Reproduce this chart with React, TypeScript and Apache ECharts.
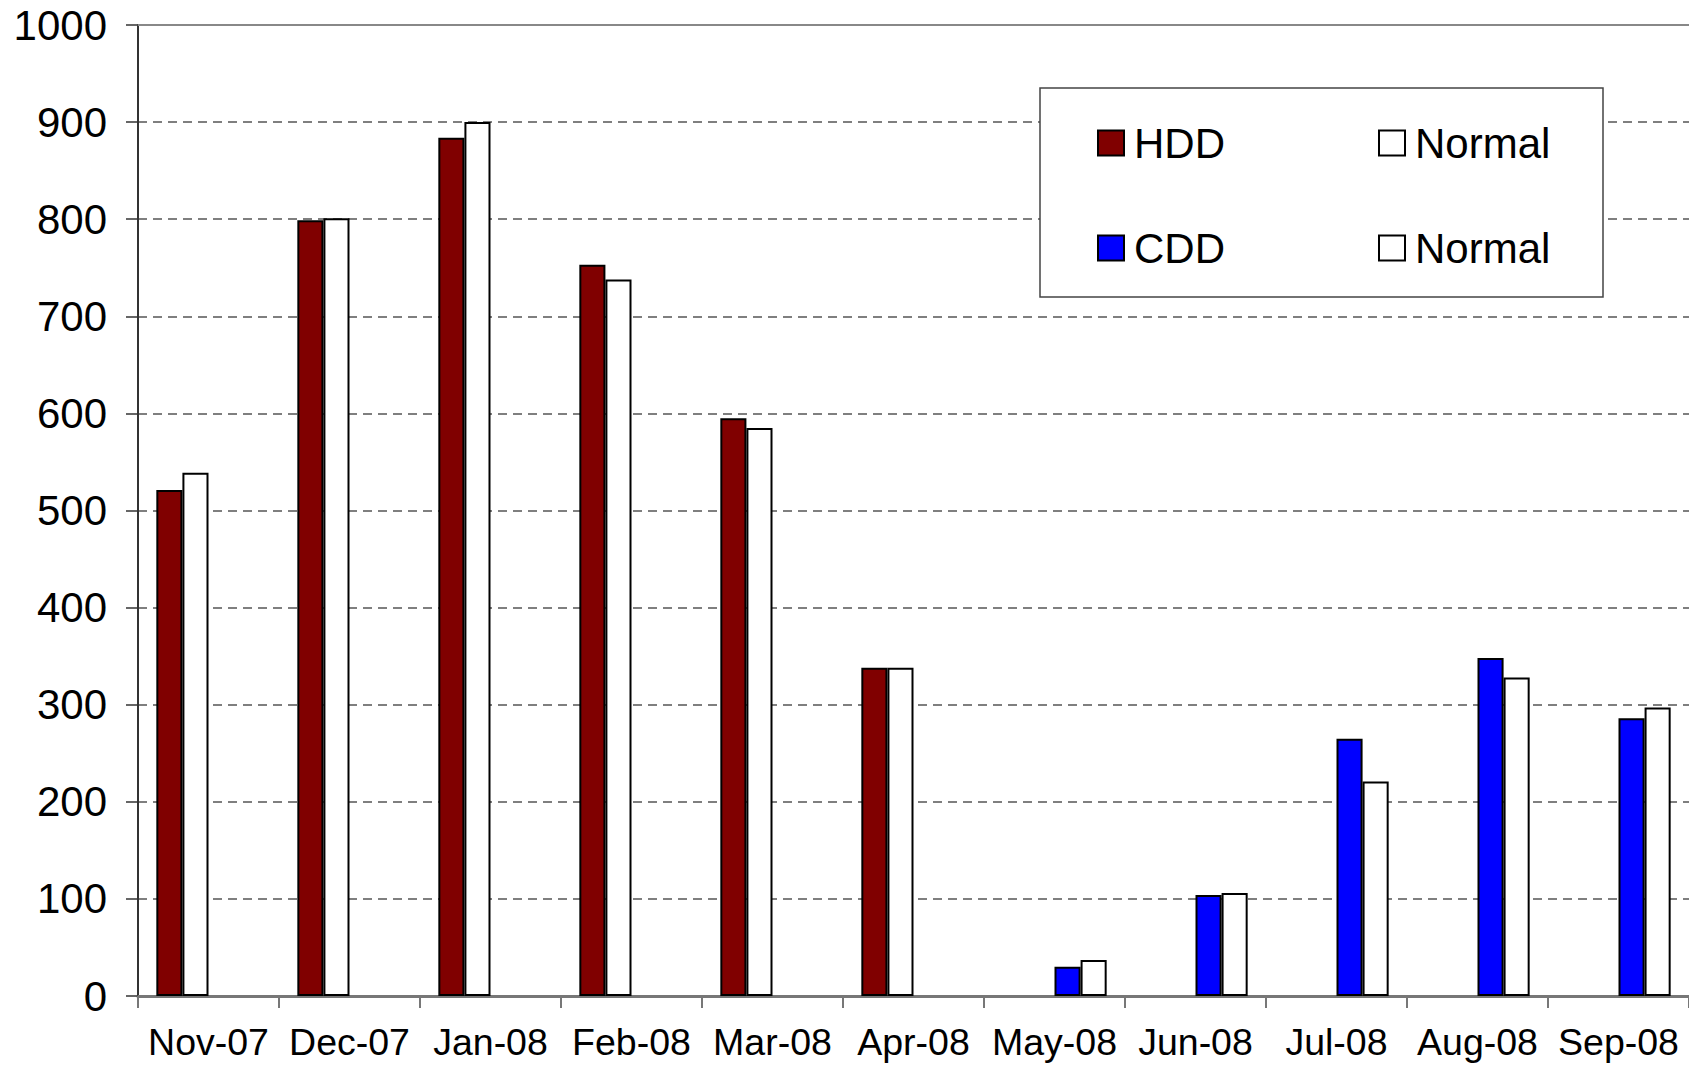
import React, { useEffect, useRef } from "react";
import * as echarts from "echarts";

const categories = ["Nov-07", "Dec-07", "Jan-08", "Feb-08", "Mar-08", "Apr-08", "May-08", "Jun-08", "Jul-08", "Aug-08", "Sep-08"];
const hddValues = [521, 799, 884, 753, 595, 338, null, null, null, null, null];
const hddNormalValues = [539, 801, 900, 738, 585, 338, null, null, null, null, null];
const cddValues = [null, null, null, null, null, null, 30, 104, 265, 348, 286];
const cddNormalValues = [null, null, null, null, null, null, 37, 106, 221, 328, 297];
const yTicks = { min: 0, max: 1000, interval: 100 };

const FONT = "'Liberation Sans', Arial, sans-serif";

export default function App() {
  const ref = useRef<HTMLDivElement>(null);
  useEffect(() => {
    if (!ref.current) return;
    const chart = echarts.init(ref.current, null, { renderer: "svg" });
    const barBorder = { borderColor: "#000", borderWidth: 2 };
    const legendBase = (name: string, left: number, top: number) => ({
      data: [name],
      left,
      top,
      padding: 0,
      itemWidth: 26,
      itemHeight: 25,
      itemGap: 0,
      icon: "rect",
      selectedMode: false,
      formatter: (n: string) => n.trim(),
      textStyle: { fontSize: 42, fontFamily: FONT, color: "#000", lineHeight: 40, padding: [0, 0, 0, 5] },
    });
    chart.setOption({
      animation: false,
      backgroundColor: "#fff",
      grid: { left: 138, top: 25, right: 0, bottom: 69, containLabel: false },
      graphic: [
        {
          type: "rect",
          z: 10,
          shape: { x: 1040, y: 88, width: 563, height: 209 },
          style: { fill: "#fff", stroke: "#444", lineWidth: 1.5 },
        },
      ],
      legend: [
        { ...legendBase("HDD", 1097, 122), z: 20 },
        { ...legendBase("Normal", 1378, 122), z: 20 },
        { ...legendBase("CDD", 1097, 227), z: 20 },
        { ...legendBase("Normal ", 1378, 227), z: 20 },
      ],
      xAxis: [
        {
          type: "category",
          data: categories,
          boundaryGap: true,
          axisLine: { show: true, lineStyle: { color: "#777", width: 3 } },
          axisTick: { show: true, length: 12, lineStyle: { color: "#777", width: 2 } },
          axisLabel: { fontSize: 37.5, fontFamily: FONT, color: "#000", margin: 27, interval: 0 },
          splitLine: { show: false },
        },
        {
          type: "category",
          data: categories,
          position: "top",
          axisLine: { show: true, lineStyle: { color: "#888", width: 2 } },
          axisTick: { show: false },
          axisLabel: { show: false },
          splitLine: { show: false },
        },
      ],
      yAxis: {
        type: "value",
        min: yTicks.min,
        max: yTicks.max,
        interval: yTicks.interval,
        axisLine: { show: true, lineStyle: { color: "#333", width: 2 } },
        axisTick: { show: true, length: 12, lineStyle: { color: "#333", width: 1.5 } },
        axisLabel: { fontSize: 42, fontFamily: FONT, color: "#000", margin: 31, formatter: (v: number) => String(v) },
        splitLine: { show: true, lineStyle: { color: "#555", type: [9, 6], width: 1.5 } },
      },
      series: [
        {
          name: "HDD",
          type: "bar",
          data: hddValues,
          barGap: "0%",
          barCategoryGap: "26%",
          itemStyle: { color: "#800000", ...barBorder },
        },
        {
          name: "Normal",
          type: "bar",
          data: hddNormalValues,
          barGap: "0%",
          barCategoryGap: "26%",
          itemStyle: { color: "#ffffff", ...barBorder },
        },
        {
          name: "CDD",
          type: "bar",
          data: cddValues,
          barGap: "0%",
          barCategoryGap: "26%",
          itemStyle: { color: "#0000ff", ...barBorder },
        },
        {
          name: "Normal ",
          type: "bar",
          data: cddNormalValues,
          barGap: "0%",
          barCategoryGap: "26%",
          itemStyle: { color: "#ffffff", ...barBorder },
        },
      ],
    });
    return () => chart.dispose();
  }, []);
  return <div ref={ref} style={{ position: "absolute", left: 0, top: 0, width: 1689, height: 1065 }} />;
}
